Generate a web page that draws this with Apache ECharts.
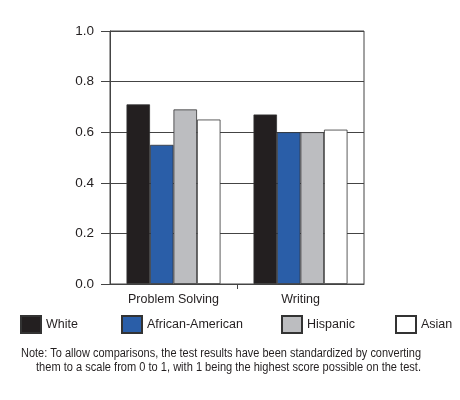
<!DOCTYPE html>
<html>
<head>
<meta charset="utf-8">
<script src="https://cdn.jsdelivr.net/npm/echarts@6/dist/echarts.min.js"></script>
<style>
  html, body { margin: 0; padding: 0; background: #fff; }
  #chart { width: 460px; height: 400px; }
</style>
</head>
<body>
<div id="chart"></div>
<script>
// 数据
const categories = ['Problem Solving', 'Writing'];
const groups = ['White', 'African-American', 'Hispanic', 'Asian'];
const whiteScores = [0.71, 0.67];
const africanAmericanScores = [0.55, 0.60];
const hispanicScores = [0.69, 0.60];
const asianScores = [0.65, 0.61];
const yTicks = [0, 0.2, 0.4, 0.6, 0.8, 1.0];
const noteLines = [
  'Note: To allow comparisons, the test results have been standardized by converting',
  'them to a scale from 0 to 1, with 1 being the highest score possible on the test.'
];

const FONT = '"Liberation Sans", Arial, sans-serif';
const colors = ['#231f20', '#2a5ea8', '#bcbdc0', '#ffffff'];
const seriesData = [whiteScores, africanAmericanScores, hispanicScores, asianScores];
const legendLeft = [20, 121, 281, 395];

// 注释文字是窄体，按参考图宽度横向压缩
const measureCtx = document.createElement('canvas').getContext('2d');
measureCtx.font = '12.5px ' + FONT;
const noteScale = [400 / measureCtx.measureText(noteLines[0]).width, 385 / measureCtx.measureText(noteLines[1]).width];

const chart = echarts.init(document.getElementById('chart'), null, { renderer: 'canvas' });

const option = {
  backgroundColor: '#fff',
  animation: false,
  textStyle: { fontFamily: FONT },
  grid: {
    left: 110, right: 96, top: 31, bottom: 116,
    show: true, borderColor: '#444', borderWidth: 1, backgroundColor: 'transparent'
  },
  // 每个图例单独定位
  legend: groups.map((name, i) => ({
    data: [name],
    left: legendLeft[i],
    top: 315,
    padding: 0,
    icon: 'rect',
    itemWidth: 20,
    itemHeight: 17,
    textStyle: { fontFamily: FONT, fontSize: 12.5, color: '#231f20' }
  })),
  xAxis: [
    {
      type: 'category',
      data: categories,
      axisLine: { lineStyle: { color: '#444', width: 1 } },
      axisTick: { show: false },
      axisLabel: { interval: 0, fontFamily: FONT, fontSize: 12.5, color: '#231f20', margin: 9 }
    },
    {
      // 只在两组之间画一个刻度
      type: 'value',
      min: 0,
      max: 2,
      position: 'bottom',
      axisLine: { show: false },
      axisLabel: { show: false },
      splitLine: { show: false },
      axisTick: { show: true, customValues: [1], length: 5, lineStyle: { color: '#444' } }
    }
  ],
  yAxis: {
    type: 'value',
    min: 0,
    max: 1,
    interval: 0.2,
    axisLine: { show: true, lineStyle: { color: '#444', width: 1 } },
    axisTick: { show: true, length: 9, lineStyle: { color: '#444' } },
    axisLabel: {
      fontFamily: FONT, fontSize: 13.5, color: '#231f20', margin: 16,
      customValues: yTicks,
      formatter: v => v.toFixed(1)
    },
    splitLine: { show: true, lineStyle: { color: '#444', width: 1 } }
  },
  series: groups.map((name, i) => ({
    name: name,
    type: 'bar',
    data: seriesData[i],
    xAxisIndex: 0,
    barGap: 0,
    barCategoryGap: '26%',
    itemStyle: { color: colors[i], borderColor: '#333', borderWidth: 0.8 }
  })),
  graphic: [
    {
      type: 'text', x: 21, y: 347, scaleX: noteScale[0],
      style: { text: noteLines[0], font: '12.5px ' + FONT, fill: '#231f20' }
    },
    {
      type: 'text', x: 36, y: 361, scaleX: noteScale[1],
      style: { text: noteLines[1], font: '12.5px ' + FONT, fill: '#231f20' }
    }
  ]
};

chart.setOption(option);
</script>
</body>
</html>
